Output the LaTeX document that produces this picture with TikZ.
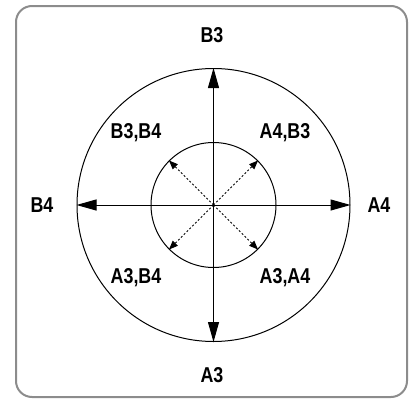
\documentclass[tikz,border=0pt]{standalone}
\usepackage{fontspec}
\setmainfont{Liberation Sans}[FakeStretch=0.83]
\usetikzlibrary{arrows.meta}
\begin{document}
\begin{tikzpicture}[x=1pt,y=-1pt,
  ring/.style={circle,draw,line width=1pt,inner sep=0pt},
  lbl/.style={font=\bfseries\fontsize{21.5}{21.5}\selectfont,inner sep=0pt},
  mainarrow/.style={line width=1pt,{Triangle[length=20pt,width=11pt]}-{Triangle[length=20pt,width=11pt]}},
  diagarrow/.style={line width=0.9pt,dash pattern=on 2pt off 2pt,-{Triangle[length=9pt,width=7pt]}}]
\useasboundingbox (0,0) rectangle (410,399);
\draw[rounded corners=16pt,line width=2pt,color=black!45] (16,6) rectangle (407,397);
\coordinate (c) at (213.5,205);
\node[ring,minimum size=273pt] (big) at (c) {};
\node[ring,minimum size=125pt] (small) at (c) {};
\draw[mainarrow] (big.north) -- (big.south);
\draw[mainarrow] (big.west) -- (big.east);
\draw[diagarrow] (c) -- (small.north east);
\draw[diagarrow] (c) -- (small.north west);
\draw[diagarrow] (c) -- (small.south east);
\draw[diagarrow] (c) -- (small.south west);
\node[lbl] (tB3) at (212,35) {B3};
\node[lbl] (tA3) at (212,375) {A3};
\node[lbl] (tB4) at (42,205) {B4};
\node[lbl] (tA4) at (379,205) {A4};
\node[lbl] (tB3B4) at (136,133) {B3,B4};
\node[lbl] (tA4B3) at (285,133) {A4,B3};
\node[lbl] (tA3B4) at (136,278) {A3,B4};
\node[lbl] (tA3A4) at (285,278) {A3,A4};
\end{tikzpicture}
\end{document}
